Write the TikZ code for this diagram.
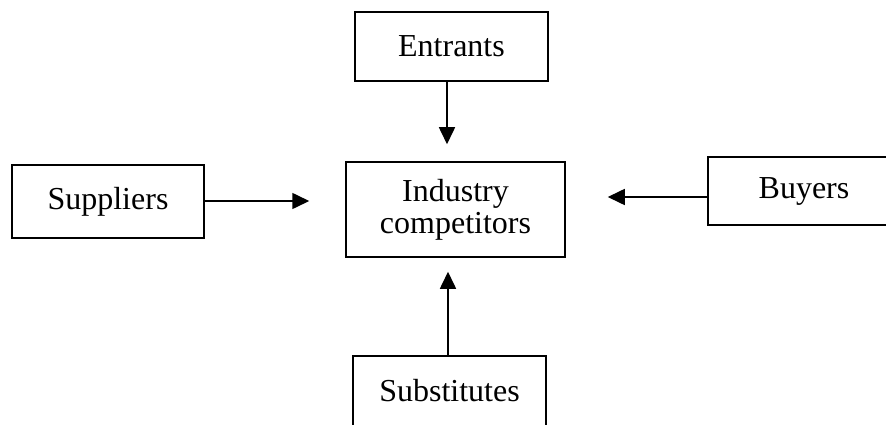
\documentclass[tikz,border=0pt]{standalone}
\usepackage{fontspec}
\setmainfont{Liberation Serif}
\usetikzlibrary{arrows.meta}
\begin{document}
\begin{tikzpicture}[x=1pt,y=-1pt,
  box/.style={draw, line width=1.5pt, inner sep=0pt, font=\fontsize{32}{32}\selectfont, align=center},
  arr/.style={-{Triangle[length=17pt,width=16pt]}, line width=1.6pt}]
\useasboundingbox (0,0) rectangle (886,425);
\clip (0,0) rectangle (886,425);
\node[box, minimum width=193pt, minimum height=69pt] (ent) at (451.5,46.5) {Entrants};
\node[box, minimum width=219pt, minimum height=95pt] (ind) at (455.5,209.5) {Industry\\competitors};
\node[box, minimum width=192pt, minimum height=73pt] (sup) at (108,201.5) {Suppliers};
\node[box, minimum width=192pt, minimum height=68pt] (buy) at (804,191) {Buyers};
\node[box, minimum width=193pt, minimum height=70pt] (sub) at (449.5,391) {Substitutes};
\draw[arr, shorten >=17pt] ([xshift=-4.5pt]ent.south) -- ([xshift=-4.5pt]ent.south |- ind.north);
\draw[arr, shorten >=14pt] ([xshift=-1.5pt]sub.north) -- ([xshift=-1.5pt]sub.north |- ind.south);
\draw[arr, shorten >=36pt] ([yshift=0.5pt]sup.east) -- ([yshift=0.5pt]sup.east -| ind.west);
\draw[arr, shorten >=42pt] ([yshift=-6pt]buy.west) -- ([yshift=-6pt]buy.west -| ind.east);
\end{tikzpicture}
\end{document}
